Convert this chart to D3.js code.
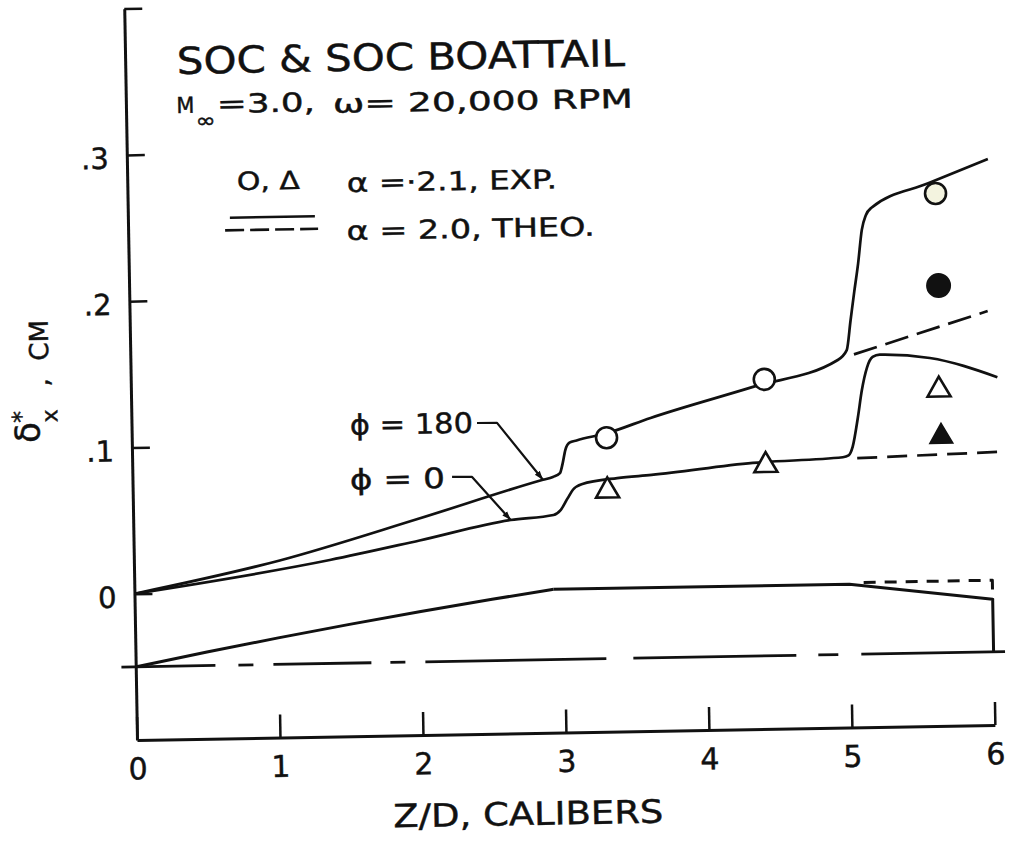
<!DOCTYPE html>
<html>
<head>
<meta charset="utf-8">
<script src="https://cdn.jsdelivr.net/npm/d3@7"></script>
<style>
  html, body { margin: 0; padding: 0; background: #fff; }
  svg { display: block; }
  text { font-family: "DejaVu Sans", sans-serif; fill: #111; stroke: #111; stroke-width: 0.45px; }
</style>
</head>
<body>
<svg id="chart" width="1011" height="845"></svg>
<script>
// ---- data: displacement thickness (cm) vs Z/D (calibers) ----
// theory, alpha = 2.0, phi = 180 (solid)
const phi180Z = [0, 1.02, 2.0, 2.87, 2.94, 2.99, 3.01, 3.03, 3.06, 3.11, 3.32, 3.63, 4.35, 4.94, 5.01, 5.04, 5.07, 5.10, 5.13, 5.16, 5.20, 5.60, 6.02];
const phi180V = [0, 0.021, 0.048, 0.073, 0.0748, 0.0774, 0.084, 0.093, 0.098, 0.0995, 0.104, 0.114, 0.134, 0.151, 0.158, 0.178, 0.198, 0.217, 0.240, 0.250, 0.255, 0.271, 0.287];
// theory, alpha = 2.0, phi = 0 (solid)
const phi0Z = [0, 1.37, 2.0, 2.64, 2.94, 2.99, 3.04, 3.08, 3.14, 3.39, 3.63, 4.34, 4.97, 5.01, 5.04, 5.08, 5.11, 5.15, 5.19, 5.24, 5.59, 6.06];
const phi0V = [0, 0.0207, 0.033, 0.0459, 0.0488, 0.0521, 0.060, 0.066, 0.0695, 0.0733, 0.075, 0.082, 0.0848, 0.086, 0.092, 0.112, 0.130, 0.146, 0.153, 0.1545, 0.1516, 0.1377];
// theory without boattail (dashed)
const noBt180Z = [5.06, 6.0];
const noBt180V = [0.155, 0.183];
const noBt0Z = [5.07, 6.05];
const noBt0V = [0.084, 0.0866];

// experiment, alpha = 2.1
const expZ = [3.32, 4.43, 5.65];
const exp180 = [0.101, 0.139, 0.264];   // open circles
const exp0 = [0.067, 0.0825, 0.132];    // open triangles
const expBtZ = [5.66];
const expBt180 = [0.201];               // filled circle
const expBt0 = [0.100];                 // filled triangle

// body profile on the same vertical scale: ogive, then cylinder + boattail
const ogiveZ = [0, 0.5, 1.0, 1.5, 2.0, 2.5, 2.93];
const ogiveR = [-0.05, -0.04075, -0.0319, -0.0235, -0.01555, -0.00805, -0.002];
const afterZ = [2.93, 5.0, 6.0, 6.0];
const afterR = [-0.002, -0.002, -0.014, -0.05];
const cylZ = [5.1, 6.0, 6.0];
const cylR = [-0.001, -0.001, -0.014];
const centerZ = [-0.1, 6.08];
const centerR = [-0.05, -0.05];

// axes
const xTicks = [0, 1, 2, 3, 4, 5, 6];
const xTickLabels = ["0", "1", "2", "3", "4", "5", "6"];
const yTicks = [0, 0.1, 0.2, 0.3, 0.4];
const yTickLabels = ["0", ".1", ".2", ".3", ""];

// leader lines for the phi labels (data units)
const lead180Z = [2.416, 2.556, 2.87];
const lead180V = [0.1126, 0.1124, 0.073];
const lead0Z = [2.235, 2.375, 2.64];
const lead0V = [0.076, 0.0758, 0.0459];

// ---- drawing ----
const INK = "#111";
const svg = d3.select("#chart");
const x = d3.scaleLinear().domain([0, 6]).range([137, 995]);
const y = d3.scaleLinear().domain([-0.1, 0.4]).range([740, 8.5]);

svg.append("defs").append("marker")
  .attr("id", "arrow").attr("viewBox", "0 0 10 10")
  .attr("refX", 10).attr("refY", 5)
  .attr("markerWidth", 9).attr("markerHeight", 9)
  .attr("markerUnits", "userSpaceOnUse")
  .attr("orient", "auto")
  .append("path").attr("d", "M0,1.5 L10,5 L0,8.5 Z").attr("fill", INK);

// the whole sheet sits slightly tilted
const g = svg.append("g").attr("transform", "rotate(-1, 137, 740)");

// axes
const xAxis = d3.axisBottom(x).tickValues(xTicks)
  .tickSizeInner(-23).tickSizeOuter(0).tickPadding(18)
  .tickFormat((d, i) => xTickLabels[i]);
const gx = g.append("g").attr("transform", `translate(0,${y(-0.1)})`).call(xAxis);
const yAxis = d3.axisLeft(y).tickValues(yTicks)
  .tickSizeInner(-18).tickSizeOuter(0).tickPadding(18)
  .tickFormat((d, i) => yTickLabels[i]);
const gy = g.append("g").attr("transform", `translate(${x(0)},0)`).call(yAxis);

[gx, gy].forEach(a => {
  a.attr("font-family", null).attr("font-size", null);
  a.select(".domain").attr("stroke", INK).attr("stroke-width", 3);
  a.selectAll(".tick line").attr("stroke", INK).attr("stroke-width", 2.5);
  a.selectAll(".tick text").attr("fill", INK);
});
gx.selectAll(".tick text").attr("font-size", 30);
gy.selectAll(".tick text").attr("font-size", 29).attr("dy", "0.45em");

const line = (zs, vs, curve) => d3.line()
  .x((d, i) => x(zs[i])).y((d, i) => y(vs[i]))
  .curve(curve || d3.curveLinear)(zs);

function stroke(sel, w, dash) {
  sel.attr("fill", "none").attr("stroke", INK).attr("stroke-width", w)
     .attr("stroke-linejoin", "round");
  if (dash) sel.attr("stroke-dasharray", dash);
  return sel;
}

// body outline
stroke(g.append("path").attr("d", line(ogiveZ, ogiveR, d3.curveMonotoneX)), 3);
stroke(g.append("path").attr("d", line(afterZ, afterR)), 3);
stroke(g.append("path").attr("d", line(cylZ, cylR)), 3, "12,9");
stroke(g.append("path").attr("d", line(centerZ, centerR)), 2.8,
  "94,23,15,20,98,19,15,20,181,27,163,22,20,23,144");

// theory curves
stroke(g.append("path").attr("d", line(phi180Z, phi180V, d3.curveMonotoneX)), 2.7);
stroke(g.append("path").attr("d", line(phi0Z, phi0V, d3.curveMonotoneX)), 2.7);
stroke(g.append("path").attr("d", line(noBt180Z, noBt180V)), 2.7, "24,9");
stroke(g.append("path").attr("d", line(noBt0Z, noBt0V)), 2.7, "20,10");

// experiment markers
const tri = (cx, cy) => `M${cx - 11.5},${cy + 10}L${cx + 11.5},${cy + 10}L${cx},${cy - 10}Z`;
g.selectAll(".c180").data(expZ).join("circle")
  .attr("cx", (d) => x(d)).attr("cy", (d, i) => y(exp180[i])).attr("r", 10.5)
  .attr("fill", (d, i) => i === 2 ? "#f3f3df" : "#fff")
  .attr("stroke", INK).attr("stroke-width", 2.6);
g.selectAll(".t0").data(expZ).join("path")
  .attr("d", (d, i) => tri(x(d), y(exp0[i])))
  .attr("fill", "#fff").attr("stroke", INK).attr("stroke-width", 2.6).attr("stroke-linejoin", "miter");
g.selectAll(".cbt").data(expBtZ).join("circle")
  .attr("cx", (d) => x(d)).attr("cy", (d, i) => y(expBt180[i])).attr("r", 12.5)
  .attr("fill", INK);
g.selectAll(".tbt").data(expBtZ).join("path")
  .attr("d", (d, i) => tri(x(d), y(expBt0[i])))
  .attr("fill", INK).attr("stroke", INK).attr("stroke-width", 1.5);

// phi labels with leaders
stroke(g.append("path").attr("d", line(lead180Z, lead180V)), 2.2).attr("marker-end", "url(#arrow)");
stroke(g.append("path").attr("d", line(lead0Z, lead0V)), 2.2).attr("marker-end", "url(#arrow)");
g.append("text").attr("x", x(1.527)).attr("y", y(0.106)).attr("font-size", 28)
  .attr("textLength", 123).attr("lengthAdjust", "spacingAndGlyphs").text("ϕ = 180");
g.append("text").attr("x", x(1.52)).attr("y", y(0.0686)).attr("font-size", 28)
  .attr("textLength", 95).attr("lengthAdjust", "spacingAndGlyphs").text("ϕ = 0");

// title and legend
function label(tx, ty, size, len, str) {
  const t = g.append("text").attr("x", tx).attr("y", ty).attr("font-size", size).text(str);
  if (len) t.attr("textLength", len).attr("lengthAdjust", "spacingAndGlyphs");
  return t;
}
label(188.7, 74.7, 37, 448, "SOC & SOC BOATTAIL");
label(187.5, 113.7, 22, 18, "M");
label(206.5, 128.5, 20, 20, "∞");
label(228.0, 114.4, 26, 98, "=3.0,");
label(344.0, 116.4, 26, 300, "ω= 20,000 RPM");
label(246.6, 191.8, 25, 63, "O, Δ");
label(356.6, 195.7, 26, 210, "α =·2.1, EXP.");
label(355.5, 243.7, 26, 248, "α = 2.0, THEO.");
g.append("line").attr("x1", 239).attr("x2", 324).attr("y1", 219.4).attr("y2", 219.4)
  .attr("stroke", INK).attr("stroke-width", 2.6);
g.append("line").attr("x1", 234).attr("x2", 327).attr("y1", 232).attr("y2", 232)
  .attr("stroke", INK).attr("stroke-width", 2.6).attr("stroke-dasharray", "19,6");

// axis titles
label(392, 831.8, 32, 270, "Z/D,  CALIBERS");
const yl = g.append("text").attr("transform", "translate(55,441) rotate(-90)").attr("font-size", 26);
yl.append("tspan").attr("x", 0).attr("y", -10).attr("font-size", 34).text("δ");
yl.append("tspan").attr("x", 20).attr("y", -20).attr("font-size", 24).text("*");
yl.append("tspan").attr("x", 20).attr("y", 8).attr("font-size", 22).text("x");
yl.append("tspan").attr("x", 56).attr("y", 0).text(",");
yl.append("tspan").attr("x", 82).attr("y", 0).text("CM");
</script>
</body>
</html>
